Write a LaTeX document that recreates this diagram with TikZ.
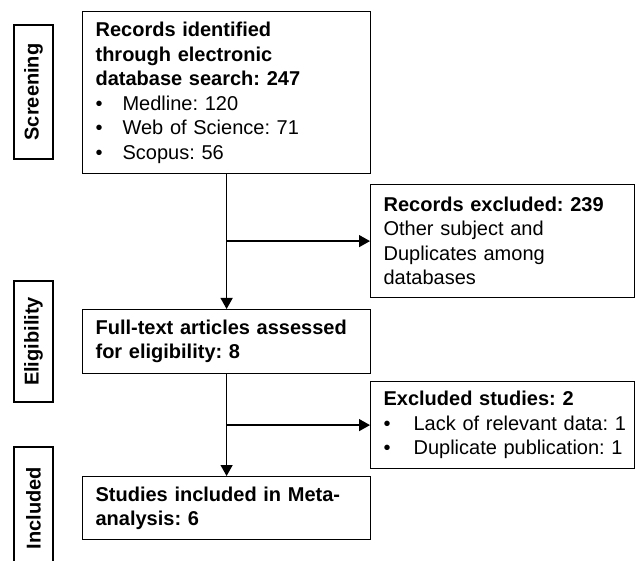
\documentclass[tikz,border=0pt]{standalone}
\usepackage{fontspec}
\setmainfont{Liberation Sans}
\usetikzlibrary{arrows.meta, positioning}
\newcommand{\itm}[2][27pt]{\mbox{\makebox[#1][l]{\textbullet}#2}}

\begin{document}
\frenchspacing
\begin{tikzpicture}[x=1pt, y=-1pt,
    box/.style = {draw, line width=1.2pt, align=left, inner xsep=13pt, inner ysep=0pt,
                  anchor=north west, font=\fontsize{20}{24.5}\selectfont},
    stage/.style = {draw, line width=1.2pt, rotate=90, inner sep=0pt,
                    minimum height=39pt, font=\fontsize{20}{24}\selectfont\bfseries},
    arr/.style = {line width=1.3pt, -{Triangle[width=12pt,length=11pt]}}]
    \clip (0,0) rectangle (635,561);
    % stages on the left
    \node[stage, minimum width=134pt] (scr) at (33.5,92) {Screening};
    \node[stage, minimum width=121pt] (elig) at (33.5,341.5) {Eligibility};
    \node[stage, minimum width=122pt] (incl) at (33.5,508) {Included};
    % main column
    \node[box, text width=262pt, minimum height=162pt] (ident) at (82,11)
        {\textbf{Records identified}\\ \textbf{through electronic}\\ \textbf{database search: 247}\\
         \itm{Medline: 120}\\ \itm{Web of Science: 71}\\ \itm{Scopus: 56}};
    \node[box, text width=262pt, minimum height=64pt] (full) at (82,309)
        {\textbf{Full-text articles assessed}\\ \textbf{for eligibility: 8}};
    \node[box, text width=262pt, minimum height=63pt] (meta) at (82,476)
        {\textbf{Studies included in Meta-}\\ \textbf{analysis: 6}};
    % exclusions
    \node[box, text width=238pt, minimum height=113pt] (excl) at (370,184)
        {\textbf{Records excluded: 239}\\ Other subject and\\ Duplicates among\\ databases};
    \node[box, text width=238pt, minimum height=87pt] (exst) at (370,381)
        {\textbf{Excluded studies: 2}\\ \itm[30pt]{Lack of relevant data: 1}\\ \itm[30pt]{Duplicate publication: 1}};
    % arrows
    \draw[arr] (ident.south) -- (full.north);
    \draw[arr] (full.south) -- (meta.north);
    \coordinate (b1) at (ident.south |- excl.west);
    \coordinate (b2) at (full.south |- exst.west);
    \draw[arr] (b1) -- (excl.west);
    \draw[arr] (b2) -- (exst.west);
\end{tikzpicture}
\end{document}
